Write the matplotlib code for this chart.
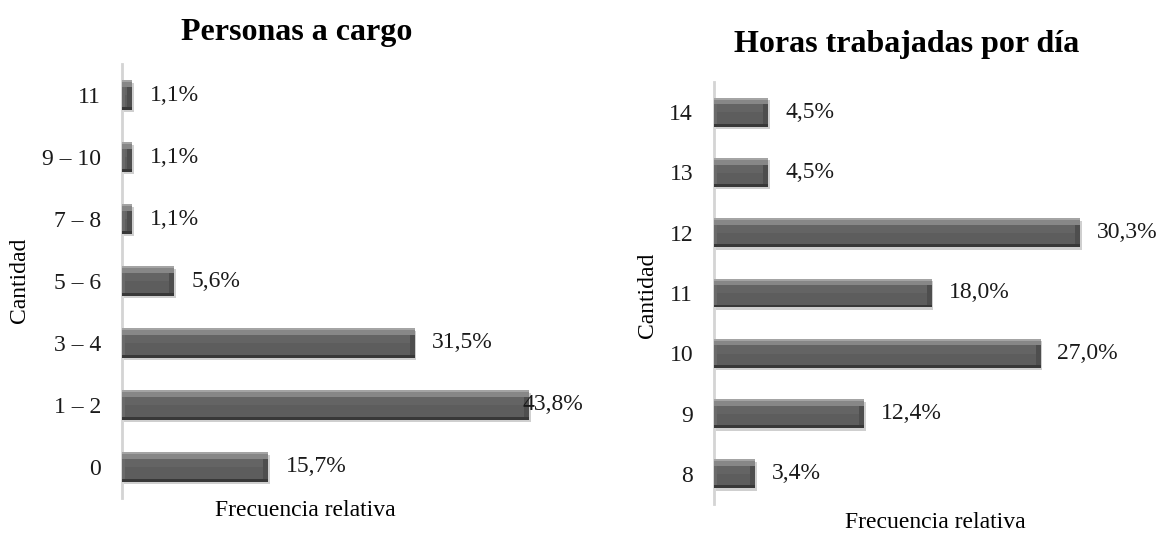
import matplotlib
matplotlib.use("Agg")
import matplotlib.pyplot as plt
import matplotlib.patheffects as pe

plt.rcParams['font.family'] = ['Liberation Serif', 'DejaVu Serif']

# Data
cargo_cats = ["0", "1 – 2", "3 – 4", "5 – 6", "7 – 8", "9 – 10", "11"]
cargo_vals = [15.7, 43.8, 31.5, 5.6, 1.1, 1.1, 1.1]
horas_cats = ["8", "9", "10", "11", "12", "13", "14"]
horas_vals = [3.4, 12.4, 27.0, 18.0, 30.3, 4.5, 4.5]
title_left = "Personas a cargo"
title_right = "Horas trabajadas por día"
ylabel = "Cantidad"
xlabel = "Frecuencia relativa"

W, H = 1159, 535
fig = plt.figure(figsize=(W / 100, H / 100), dpi=100)
FS = 17


def fmt(v):
    return f"{v:.1f}".replace(".", ",") + "%"


def draw(ax, cats, vals, xmax, px_per_unit, gap, label_cap):
    ys = list(range(len(cats)))
    h = 0.48
    shadow = [pe.SimplePatchShadow(offset=(1.2, -1.8), shadow_rgbFace='#777777', alpha=0.35), pe.Normal()]
    base = ax.barh(ys, vals, height=h, color='#4e4e4e', linewidth=0, zorder=2)
    for b in base:
        b.set_path_effects(shadow)
    # bottom dark band
    ax.barh([y - 0.45 * h for y in ys], vals, height=0.1 * h, color='#383838', linewidth=0, zorder=3)
    # top light bevel
    ax.barh([y + 0.385 * h for y in ys], vals, height=0.23 * h, color='#878787', linewidth=0, zorder=3)
    ax.barh([y + 0.465 * h for y in ys], vals, height=0.07 * h, color='#a4a4a4', linewidth=0, zorder=3)
    # inner face
    bl = 3 / px_per_unit
    br = 5 / px_per_unit
    inner = [max(v - bl - br, v * 0.2) for v in vals]
    lefts = [min(bl, v * 0.3) for v in vals]
    ax.barh([y - 0.065 * h for y in ys], inner, left=lefts, height=0.67 * h, color='#5d5d5d', linewidth=0, zorder=4)
    ax.barh([y + 0.13 * h for y in ys], inner, left=lefts, height=0.28 * h, color='#646464', linewidth=0, zorder=4)
    # left bevel side
    ax.barh([y - 0.065 * h for y in ys], lefts, height=0.67 * h, color='#6a6a6a', linewidth=0, zorder=4)

    for y, v in zip(ys, vals):
        ax.text(min(v + gap, label_cap), y, fmt(v), va='center', ha='left', fontsize=FS, color='#1a1a1a', zorder=6)

    ax.set_xlim(0, xmax)
    ax.set_ylim(-0.5, len(cats) - 0.5)
    ax.set_yticks(ys)
    ax.set_yticklabels(cats, fontsize=FS)
    ax.tick_params(axis='y', length=0, pad=15, colors='#1a1a1a')
    ax.set_xticks([])
    for s in ['top', 'right', 'bottom']:
        ax.spines[s].set_visible(False)
    ax.spines['left'].set_color('#d4d4d4')
    ax.spines['left'].set_linewidth(2)
    ax.patch.set_alpha(0)


axL = fig.add_axes([122 / W, 37 / H, (540 - 122) / W, 434 / H])
draw(axL, cargo_cats, cargo_vals, 45, 9.3, 1.9, 43.1)
axR = fig.add_axes([714 / W, 31 / H, 387 / W, 422 / H])
draw(axR, horas_cats, horas_vals, 32, 12.08, 1.4, 40)

fig.text(297 / W, 1 - 40 / H, title_left, ha='center', va='baseline', fontsize=23, fontweight='bold')
fig.text(907 / W, 1 - 52 / H, title_right, ha='center', va='baseline', fontsize=23, fontweight='bold')
fig.text(19 / W, 1 - 280 / H, ylabel, rotation=90, ha='center', va='center', fontsize=FS)
fig.text(647 / W, 1 - 295 / H, ylabel, rotation=90, ha='center', va='center', fontsize=FS)
fig.text(305 / W, 1 - 511 / H, xlabel, ha='center', va='center', fontsize=FS)
fig.text(935 / W, 1 - 523 / H, xlabel, ha='center', va='center', fontsize=FS)

fig.savefig("out.png", dpi=100, facecolor='white')
